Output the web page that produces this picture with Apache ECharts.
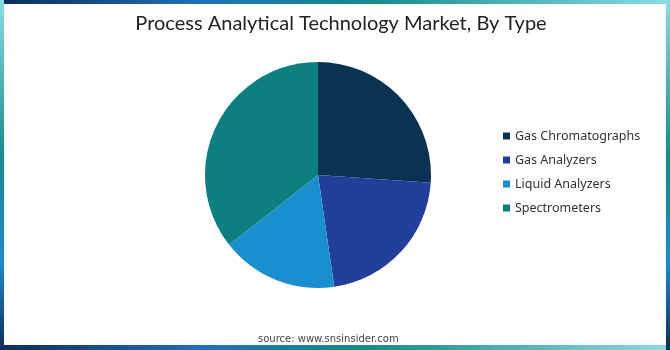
<!DOCTYPE html>
<html>
<head>
<meta charset="utf-8">
<script src="https://cdn.jsdelivr.net/npm/echarts@6/dist/echarts.min.js"></script>
<style>
html,body{margin:0;padding:0;background:#fff;}
#c{width:670px;height:350px;}
</style>
</head>
<body>
<div id="c"></div>
<script>
var categories = ['Gas Chromatographs', 'Gas Analyzers', 'Liquid Analyzers', 'Spectrometers'];
var values = [26.1, 21.6, 16.7, 35.6];
var colors = ['#0A3352', '#22409B', '#1A8FD0', '#0B807E'];
var titleText = 'Process Analytical Technology Market, By Type';
var sourceText = 'source: www.snsinsider.com';

var chart = echarts.init(document.getElementById('c'), null, {renderer: 'canvas'});
function grad(x2, y2, stops) {
  return new echarts.graphic.LinearGradient(0, 0, x2, y2, stops);
}
var hStops = [{offset: 0, color: '#0C2E5A'}, {offset: 0.3, color: '#1E72B8'}, {offset: 0.55, color: '#148B8C'}, {offset: 1, color: '#8ADCE6'}];
var vStops = [{offset: 0, color: '#8ADCE6'}, {offset: 0.45, color: '#148B8C'}, {offset: 0.75, color: '#1E8AD0'}, {offset: 1, color: '#0C2E5A'}];
chart.setOption({
  backgroundColor: '#fff',
  animation: false,
  title: {
    text: titleText,
    left: 336,
    textAlign: 'center',
    top: 9,
    textStyle: {fontFamily: 'Lato, sans-serif', fontSize: 20, fontWeight: 'normal', color: '#222'}
  },
  legend: {
    orient: 'vertical',
    left: 498,
    top: 124,
    icon: 'rect',
    itemWidth: 7,
    itemHeight: 7,
    itemGap: 10,
    textStyle: {fontFamily: 'Noto Sans, sans-serif', fontSize: 12.5, color: '#333', lineHeight: 14},
    data: categories
  },
  graphic: [
    {type: 'rect', shape: {x: 0, y: 0, width: 670, height: 4}, style: {fill: grad(1, 0, hStops)}, silent: true},
    {type: 'rect', shape: {x: 0, y: 345, width: 670, height: 5}, style: {fill: grad(1, 0, hStops)}, silent: true},
    {type: 'rect', shape: {x: 0, y: 0, width: 4, height: 350}, style: {fill: grad(0, 1, vStops)}, silent: true},
    {type: 'rect', shape: {x: 666, y: 0, width: 4, height: 350}, style: {fill: grad(0, 1, vStops)}, silent: true},
    {type: 'text', left: 258, top: 334, style: {text: sourceText, fill: '#444', font: '10px "DejaVu Sans", sans-serif'}, silent: true}
  ],
  series: [{
    type: 'pie',
    center: [318, 175],
    radius: 113,
    startAngle: 90,
    clockwise: true,
    label: {show: false},
    labelLine: {show: false},
    itemStyle: {borderWidth: 0},
    data: categories.map(function (n, i) { return {name: n, value: values[i], itemStyle: {color: colors[i]}}; })
  }]
});
</script>
</body>
</html>
